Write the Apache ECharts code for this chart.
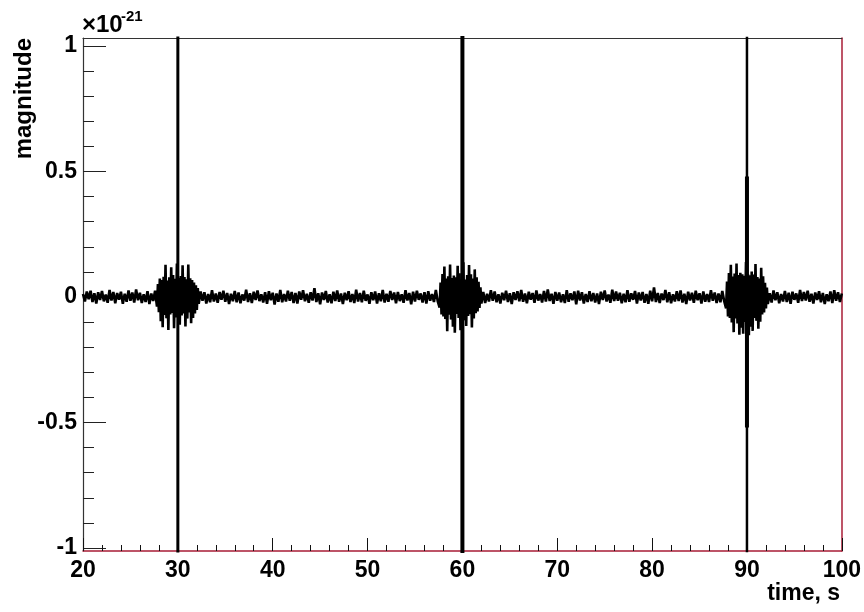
<!DOCTYPE html>
<html>
<head>
<meta charset="utf-8">
<script src="https://cdn.jsdelivr.net/npm/echarts@6/dist/echarts.min.js"></script>
<style>
html,body{margin:0;padding:0;background:#fff;}
#chart{width:864px;height:612px;}
</style>
</head>
<body>
<div id="chart"></div>
<script>
// ---- data (magnitude in units of 1e-24, i.e. thousandths of 1e-21) ----
const base1 = [
12,-18,22,-9,25,-20,15,-26,19,-12,
24,-17,10,-23,28,-14,20,-25,16,-11,
21,-27,13,-19,26,-15,18,-22,30,-13,
17,-24,11,-20,23,-28,14,-16,25];
const burst1 = [
-38,52,-61,74,-96,68,-120,81,-72,128,
-85,66,-131,79,-70,118,-64,88,-124,73,
-82,133,-69,77,-110,84,-74,126,-66,80,
-117,71,-86,129,-62,75,-104,68,-83,58,
-66,47,-52,36,-27];
const base2 = [
22,-15,19,-26,12,-21,27,-18,14,-23,
20,-11,25,-19,16,-28,13,-17,24,-21,
18,-25,10,-14,29,-20,15,-24,21,-12,
26,-16,11,-22,19,-27,23,-13,17,-30,
14,-19,28,-21,12,-18,25,-15,20,-24,
16,-26,22,-11,27,-17,13,-23,19,-14,
35,-20,15,-29,18,-12,24,-22,11,-25,
21,-16,26,-19,14,-28,17,-13,23,-20,
12,-24,29,-18,16,-21,25,-15,10,-27,
19,-13,22,-26,15,-17,28,-22,13,-19,
24,-12,18,-25,20,-16,11,-23,27,-14,
16,-29,21,-18,25,-11,14,-22,19,-26,
23,-15,12,-20,28,-17];
const burst2 = [
-42,58,-70,92,-78,121,-88,74,-136,83,
-71,129,-90,76,-118,86,-142,79,-68,124,
-84,95,-132,72,-80,138,-93,70,-115,88,
-76,127,-69,91,-121,74,-86,110,-65,79,
-58,61,-44,39,-26];
const base3 = [
20,-24,13,-18,27,-15,22,-21,11,-26,
17,-13,25,-20,15,-28,19,-12,23,-17,
28,-19,14,-25,21,-11,16,-23,26,-14,
12,-22,24,-18,30,-16,13,-27,20,-15,
18,-21,11,-24,27,-19,15,-13,22,-29,
25,-14,19,-26,12,-20,23,-17,16,-22,
14,-28,21,-12,26,-18,10,-23,29,-16,
22,-15,17,-25,13,-21,27,-19,15,-11,
24,-26,18,-14,20,-23,12,-27,25,-17,
38,-20,16,-24,14,-12,28,-21,19,-25,
11,-18,23,-16,26,-22,13,-28,21,-14,
17,-23,25,-13,15,-26,22,-19,12,-20,
27,-15,18,-24,14,-21,24,-17];
const burst3 = [
-45,62,-78,96,-84,128,-101,82,-140,94,
-86,133,-105,88,-150,97,-122,91,-146,85,
-99,139,-108,92,-152,87,-118,102,-135,90,
-84,131,-95,80,-126,74,-98,116,-70,83,
-62,57,-46,38,-28];
const base4 = [
15,-22,26,-13,19,-25,12,-18,24,-20,
17,-27,21,-11,14,-23,28,-16,20,-14,
25,-19,13,-26,18,-12,23,-21,16,-28,
11,-17,22,-24,27,-15,19,-20,14];

// sampling of each record segment (start time in s, sample spacing in s)
const segmentStart = [20, 27.8, 32.4, 57.6, 62.2, 87.8, 92.4];
const segmentSpacing = [0.2, 0.1, 0.2, 0.1, 0.2, 0.1, 0.2];
const segmentValues = [base1, burst1, base2, burst2, base3, burst3, base4];
const valueUnit = 0.001; // thousandths of 1e-21

// strong transients (times in s, extent in units of 1e-21)
const spikeTimes = [30, 60, 90, 90];
const spikeLow = [-2, -2, -2, -0.52];
const spikeHigh = [2, 2, 2, 0.48];

// axis ticks
const xTicks = [20, 30, 40, 50, 60, 70, 80, 90, 100];
const yTicks = [-1, -0.5, 0, 0.5, 1];

// ---- styles ----
const spikeWidths = [3, 4, 2.5, 4];
const FONT = '"Liberation Sans", Arial, Helvetica, sans-serif';
const FRAME_RED = '#a81c36';

const signal = [];
segmentValues.forEach(function (vals, s) {
  vals.forEach(function (v, i) {
    signal.push([+(segmentStart[s] + i * segmentSpacing[s]).toFixed(3), v * valueUnit]);
  });
});

const series = [{
  type: 'line',
  xAxisIndex: 0, yAxisIndex: 0,
  data: signal,
  showSymbol: false,
  symbol: 'none',
  lineStyle: {color: '#000', width: 2.6, join: 'bevel'},
  clip: true,
  animation: false,
  z: 3
}];
spikeTimes.forEach(function (t, k) {
  series.push({
    type: 'line',
    xAxisIndex: 0, yAxisIndex: 0,
    data: [[t, spikeLow[k]], [t, spikeHigh[k]]],
    showSymbol: false,
    symbol: 'none',
    lineStyle: {color: '#000', width: spikeWidths[k]},
    clip: true,
    animation: false,
    z: 4
  });
});

const chart = echarts.init(document.getElementById('chart'), null, {renderer: 'canvas'});
chart.setOption({
  animation: false,
  backgroundColor: '#fff',
  grid: [
    {left: 83, right: 22, top: 38, bottom: 61, containLabel: false},
    {left: 83, right: 22, top: 46, bottom: 64, containLabel: false}
  ],
  xAxis: [
    {
      gridIndex: 0, type: 'value', position: 'bottom',
      min: xTicks[0], max: xTicks[xTicks.length - 1], interval: 10,
      axisLine: {show: true, onZero: false, lineStyle: {color: FRAME_RED, width: 1.5}},
      axisTick: {show: true, inside: true, length: 13, lineStyle: {color: '#111', width: 1}},
      minorTick: {show: true, splitNumber: 5, length: 6, lineStyle: {color: '#111', width: 1}},
      axisLabel: {show: true, margin: 8, fontSize: 23, fontWeight: 'bold', fontFamily: FONT, color: '#000'},
      splitLine: {show: false}
    },
    {
      gridIndex: 0, type: 'value', position: 'top',
      min: xTicks[0], max: xTicks[xTicks.length - 1],
      axisLine: {show: true, onZero: false, lineStyle: {color: '#333', width: 1.2}},
      axisTick: {show: false}, axisLabel: {show: false}, splitLine: {show: false}
    },
    {
      gridIndex: 1, type: 'value', show: false, min: 0, max: 1
    }
  ],
  yAxis: [
    {
      gridIndex: 0, type: 'value', position: 'left',
      min: -1.012, max: 1.032,
      axisLine: {show: true, onZero: false, lineStyle: {color: '#333', width: 1.2}},
      axisTick: {show: false}, axisLabel: {show: false}, splitLine: {show: false}
    },
    {
      gridIndex: 0, type: 'value', position: 'right',
      min: -1.012, max: 1.032,
      axisLine: {show: true, onZero: false, lineStyle: {color: FRAME_RED, width: 1.5}},
      axisTick: {show: false}, axisLabel: {show: false}, splitLine: {show: false}
    },
    {
      gridIndex: 1, type: 'value', position: 'left',
      min: yTicks[0], max: yTicks[yTicks.length - 1], interval: 0.5,
      axisLine: {show: false, onZero: false},
      axisTick: {show: true, inside: true, length: 23, lineStyle: {color: '#222', width: 1}},
      minorTick: {show: true, splitNumber: 5, length: 11, lineStyle: {color: '#222', width: 1}},
      axisLabel: {show: true, margin: 6, fontSize: 23, fontWeight: 'bold', fontFamily: FONT, color: '#000'},
      splitLine: {show: false}
    }
  ],
  graphic: [
    {
      type: 'text', x: 24, y: 38, rotation: Math.PI / 2,
      style: {text: 'magnitude', fontSize: 24, fontWeight: 'bold', fontFamily: FONT,
              fill: '#000', align: 'right', verticalAlign: 'middle'}
    },
    {
      type: 'text', x: 840, y: 594,
      style: {text: 'time, s', fontSize: 23, fontWeight: 'bold', fontFamily: FONT,
              fill: '#000', align: 'right', verticalAlign: 'middle'}
    },
    {
      type: 'text', x: 82, y: 25,
      style: {text: '\u00d710', fontSize: 24, fontWeight: 'bold', fontFamily: FONT,
              fill: '#000', align: 'left', verticalAlign: 'middle'}
    },
    {
      type: 'text', x: 121, y: 17,
      style: {text: '-21', fontSize: 15, fontWeight: 'bold', fontFamily: FONT,
              fill: '#000', align: 'left', verticalAlign: 'middle'}
    }
  ],
  series: series
});
</script>
</body>
</html>
